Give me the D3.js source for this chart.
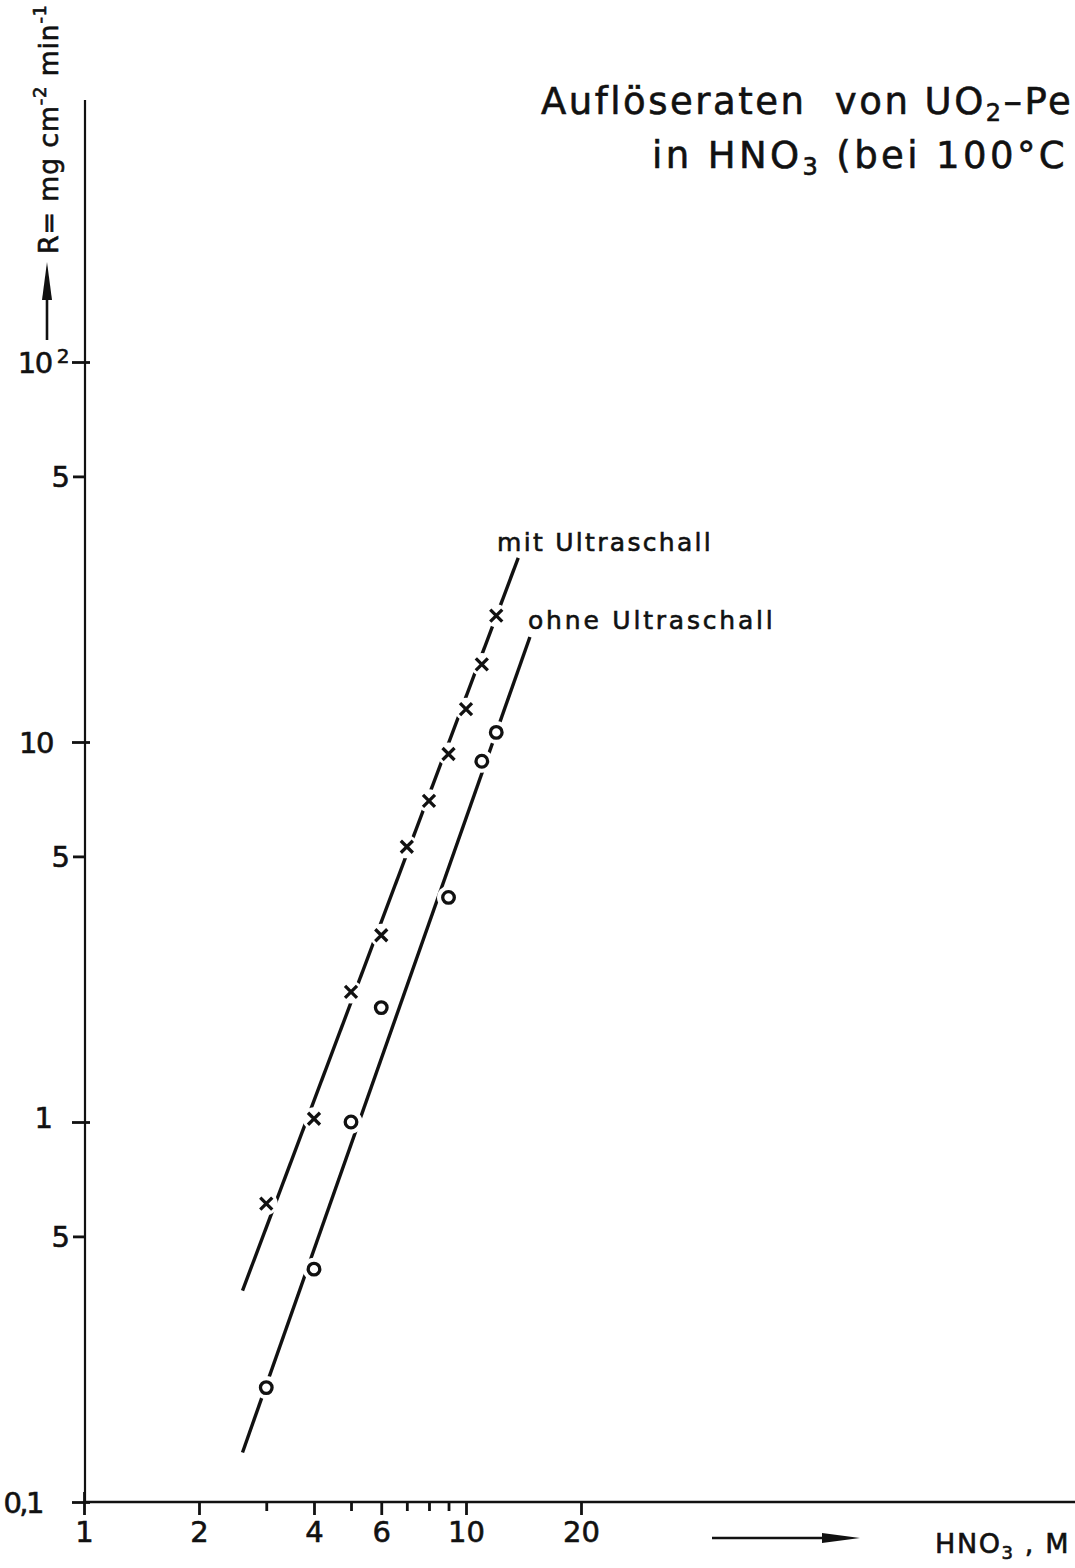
<!DOCTYPE html>
<html><head><meta charset="utf-8">
<script src="https://cdn.jsdelivr.net/npm/d3@7"></script>
<style>body{margin:0;background:#fff}svg{display:block}svg text{stroke:#111;stroke-width:0.6px}</style>
</head><body>
<svg id="chart" width="1075" height="1568"></svg>
<script>
// Measured dissolution rates R (mg cm^-2 min^-1) vs. HNO3 molarity
const hno3Mit  = [3, 4, 5, 6, 7, 8, 9, 10, 11, 12];
const rateMit  = [0.61, 1.02, 2.2, 3.1, 5.3, 7.0, 9.3, 12.2, 16, 21.5];
const hno3Ohne = [3, 4, 5, 6, 9, 11, 12];
const rateOhne = [0.2, 0.41, 1.0, 2.0, 3.9, 8.9, 10.6];
// Straight fit lines in log-log space (endpoints: [HNO3, R])
const fitMit  = [[2.6, 0.36], [13.7, 30.5]];
const fitOhne = [[2.6, 0.135], [14.7, 18.9]];
// Axis ticks
const yMajor = [100, 10, 1, 0.1];
const yMajorLabels = ["10", "10", "1", "0,1"];
const yMinor = [50, 5, 0.5];
const yMinorLabels = ["5", "5", "5"];
const xTicks = [1, 2, 3, 4, 5, 6, 7, 8, 9, 10, 20];
const xTickLabels = {1: "1", 2: "2", 4: "4", 6: "6", 10: "10", 20: "20"};

const FONT = "'DejaVu Sans', sans-serif";
const svg = d3.select("#chart");
const ink = "#111";

const x = d3.scaleLog().domain([1, 100]).range([84, 848]);
const y = d3.scaleLog().domain([0.1, 100]).range([1502, 362]);

// axis lines
svg.append("line").attr("x1", 83).attr("x2", 1075).attr("y1", 1502).attr("y2", 1502)
  .attr("stroke", ink).attr("stroke-width", 2.4);
svg.append("line").attr("x1", 85).attr("x2", 85).attr("y1", 100).attr("y2", 1502)
  .attr("stroke", ink).attr("stroke-width", 2.2);

// y axis: decades (long ticks across the axis) and the 5-marks (short ticks)
const yAxisMajor = svg.append("g").attr("transform", "translate(85,0)")
  .call(d3.axisLeft(y).tickValues(yMajor).tickSize(13).tickFormat((d, i) => yMajorLabels[i]));
yAxisMajor.select(".domain").remove();
yAxisMajor.selectAll(".tick line").attr("x1", 5).attr("x2", -13).attr("stroke", ink).attr("stroke-width", 2.8);
yAxisMajor.selectAll(".tick text")
  .attr("x", d => d === 0.1 ? -43 : d === 100 ? -17 : -32)
  .attr("letter-spacing", d => d === 0.1 ? -2.5 : d === 10 || d === 100 ? -1.5 : 0)
  .attr("font-family", FONT).attr("font-size", 29).attr("fill", ink)
  .attr("dy", d => d === 1 ? "0.18em" : "0.36em");
yAxisMajor.selectAll(".tick").filter(d => d === 100).select("text")
  .append("tspan").attr("dx", 5).attr("dy", "-0.5em").attr("font-size", 20).text("2");

const yAxisMinor = svg.append("g").attr("transform", "translate(85,0)")
  .call(d3.axisLeft(y).tickValues(yMinor).tickSize(12).tickFormat((d, i) => yMinorLabels[i]));
yAxisMinor.select(".domain").remove();
yAxisMinor.selectAll(".tick line").attr("x1", 1).attr("x2", -12).attr("stroke", ink).attr("stroke-width", 2.8);
yAxisMinor.selectAll(".tick text").attr("x", -15).attr("font-family", FONT).attr("font-size", 29)
  .attr("fill", ink).attr("dy", "0.36em");

// x axis ticks and labels
const major = new Set([1, 2, 4, 6, 10, 20]);
const xAxis = svg.append("g").attr("transform", "translate(0,1502)")
  .call(d3.axisBottom(x).tickValues(xTicks).tickSize(12).tickFormat(d => xTickLabels[d] || ""));
xAxis.select(".domain").remove();
xAxis.selectAll(".tick line")
  .attr("y1", d => d === 1 ? -10 : 0)
  .attr("y2", d => major.has(d) ? 13 : 9)
  .attr("stroke", ink).attr("stroke-width", 2.8);
xAxis.selectAll(".tick text").attr("y", 19).attr("font-family", FONT).attr("font-size", 29)
  .attr("fill", ink).attr("dy", "0.71em");

// fit lines
const line = d3.line().x(d => x(d[0])).y(d => y(d[1]));
[fitMit, fitOhne].forEach(f => {
  svg.append("path").attr("d", line(f)).attr("fill", "none")
    .attr("stroke", ink).attr("stroke-width", 3.4);
});

// white halos so the lines break around each marker
const mit = hno3Mit.map((h, i) => [h, rateMit[i]]);
const ohne = hno3Ohne.map((h, i) => [h, rateOhne[i]]);
svg.append("g").selectAll("circle").data(mit.concat(ohne)).join("circle")
  .attr("cx", d => x(d[0])).attr("cy", d => y(d[1])).attr("r", 11.5).attr("fill", "#fff");

// markers: crosses (with ultrasound)
svg.append("g").selectAll("path").data(mit).join("path")
  .attr("transform", d => `translate(${x(d[0])},${y(d[1])})`)
  .attr("d", "M-6,-6L6,6M-6,6L6,-6")
  .attr("stroke", ink).attr("stroke-width", 3.3).attr("fill", "none");

// markers: open circles (without ultrasound)
svg.append("g").selectAll("circle").data(ohne).join("circle")
  .attr("cx", d => x(d[0])).attr("cy", d => y(d[1])).attr("r", 5.8)
  .attr("stroke", ink).attr("stroke-width", 3.3).attr("fill", "#fff");

// series labels
svg.append("text").attr("x", 497).attr("y", 551).attr("font-family", FONT).attr("font-size", 25)
  .attr("letter-spacing", 2.3).attr("fill", ink).text("mit Ultraschall");
svg.append("text").attr("x", 528).attr("y", 629).attr("font-family", FONT).attr("font-size", 25)
  .attr("letter-spacing", 2.8).attr("fill", ink).text("ohne Ultraschall");

// title
const title = svg.append("g").attr("font-family", FONT).attr("font-size", 37).attr("fill", ink);
const t1 = title.append("text").attr("x", 541).attr("y", 114).attr("letter-spacing", 2.5)
  .attr("xml:space", "preserve");
t1.append("tspan").text("Auflöseraten  von UO");
t1.append("tspan").attr("font-size", 24).attr("dy", 7).text("2");
t1.append("tspan").attr("dy", -7).text("–Pe");
const t2 = title.append("text").attr("x", 652).attr("y", 168).attr("letter-spacing", 3.4);
t2.append("tspan").text("in HNO");
t2.append("tspan").attr("font-size", 24).attr("dy", 7).text("3");
t2.append("tspan").attr("dy", -7).text(" (bei 100°C");

// y axis label with arrow
svg.append("line").attr("x1", 47).attr("x2", 47).attr("y1", 340).attr("y2", 285)
  .attr("stroke", ink).attr("stroke-width", 2.6);
svg.append("path").attr("d", "M47,262 L52,300 L42,300 Z").attr("fill", ink);
const yl = svg.append("text").attr("transform", "translate(58,254) rotate(-90)")
  .attr("font-family", FONT).attr("font-size", 27).attr("letter-spacing", 0.7)
  .attr("fill", ink).attr("xml:space", "preserve");
yl.append("tspan").text("R= mg cm");
yl.append("tspan").attr("font-size", 18).attr("dy", -12).text("-2");
yl.append("tspan").attr("dy", 12).text(" min");
yl.append("tspan").attr("font-size", 18).attr("dy", -12).text("-1");

// x axis label with arrow
svg.append("line").attr("x1", 712).attr("x2", 835).attr("y1", 1538).attr("y2", 1538)
  .attr("stroke", ink).attr("stroke-width", 2.6);
svg.append("path").attr("d", "M860,1538 L822,1533 L822,1543 Z").attr("fill", ink);
const xl = svg.append("text").attr("x", 935).attr("y", 1553)
  .attr("font-family", FONT).attr("font-size", 27).attr("letter-spacing", 1.6)
  .attr("fill", ink).attr("xml:space", "preserve");
xl.append("tspan").text("HNO");
xl.append("tspan").attr("font-size", 18).attr("dy", 6).text("3");
xl.append("tspan").attr("dy", -6).text(" , M");
</script>
</body></html>
